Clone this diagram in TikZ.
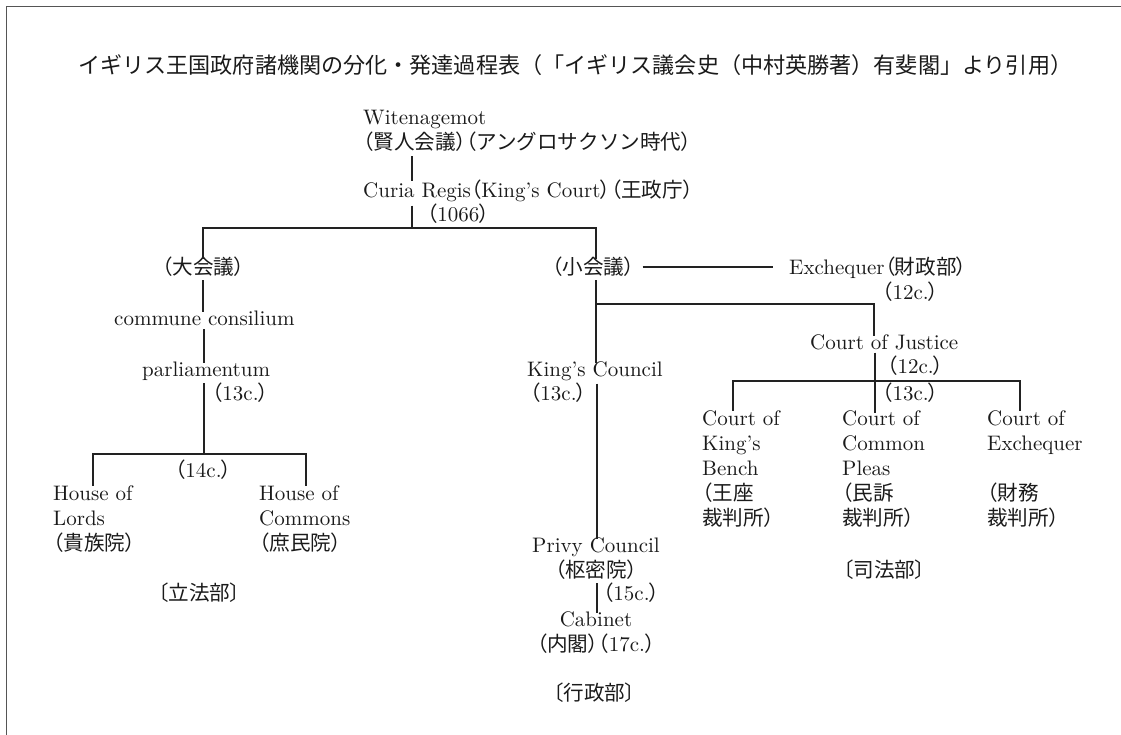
\documentclass[tikz,border=0pt]{standalone}
\usepackage{fontspec}
\setmainfont{lmroman10-regular}[Extension=.otf]
\newfontfamily\cjkf[Scale=0.98]{Noto Sans CJK JP}
\newfontfamily\cjkpf[Scale=0.98,RawFeature=+palt]{Noto Sans CJK JP}
\newfontfamily\titlef{Noto Sans CJK JP}
\newcommand\J[1]{{\cjkf #1}}
\newcommand\Lp{{\cjkpf （}}
\newcommand\Rp{{\cjkpf ）}}
\newcommand\Lk{{\cjkpf 〔}}
\newcommand\Rk{{\cjkpf 〕}}
\newcommand\ML[1]{\vtop{\halign{##\hfil\cr#1\crcr}}}
\newcommand\MC[1]{\vtop{\halign{\hfil##\hfil\cr#1\crcr}}}
\definecolor{txt}{HTML}{1A1A1A}
\definecolor{ln}{HTML}{222222}
\definecolor{fr}{HTML}{555555}
\begin{document}
\begin{tikzpicture}[x=1pt,y=-1pt,
  every node/.style={inner sep=0pt,anchor=base west,text=txt,font=\fontsize{21}{25}\selectfont},
  conn/.style={draw=ln,line width=1.3pt},
  frame/.style={draw=fr,line width=1pt}]
\useasboundingbox (0,0) rectangle (1121,735);
\draw[frame] (6.5,735) -- (6.5,7) -- (1121,7);
% title
\node[font=\titlef\fontsize{22.1}{26}\selectfont] (title) at (78,74)
  {イギリス王国政府諸機関の分化・発達過程表（「イギリス議会史（中村英勝著）有斐閣」より引用）};
% column coordinates
\coordinate (Xcur) at (412,0);
\coordinate (Xdai) at (203,0);
\coordinate (Xsho) at (596,0);
\coordinate (Xjus) at (874,0);
\coordinate (Xkb) at (733,0);
\coordinate (Xce) at (1020,0);
\coordinate (Xl) at (93,0);
\coordinate (Xc) at (306,0);
\coordinate (Xpr) at (597,0);
\coordinate (Yex) at (0,267);
% nodes
\node (wit) at (363,125) {\ML{Witenagemot\cr\Lp\J{賢人会議}\Rp\Lp\J{アングロサクソン時代}\Rp}};
\node (cur) at (363,198) {Curia Regis\Lp King’s Court\Rp\Lp\J{王政庁}\Rp};
\node (d1066) at (427,222) {\Lp 1066\Rp};
\node (dai) at (162,275) {\Lp\J{大会議}\Rp};
\node (commune) at (114,325) {commune consilium};
\node (parl) at (142,376) {parliamentum};
\node (c13a) at (212,400) {\Lp 13c.\Rp};
\node (c14) at (175,477) {\Lp 14c.\Rp};
\node (lords) at (53,500) {\ML{House of\cr Lords\cr\Lp\J{貴族院}\Rp}};
\node (commons) at (259,500) {\ML{House of\cr Commons\cr\Lp\J{庶民院}\Rp}};
\node (rippo) at (158,600) {\Lk\J{立法部}\Rk};
\node (sho) at (552,275) {\Lp\J{小会議}\Rp};
\node (exch) at (789,275) {Exchequer\Lp\J{財政部}\Rp};
\node (c12a) at (882,299) {\Lp 12c.\Rp};
\node (justice) at (810,349) {Court of Justice};
\node (c12b) at (887,373) {\Lp 12c.\Rp};
\node (c13b) at (882,400) {\Lp 13c.\Rp};
\node (kings) at (527,376) {King’s Council};
\node (c13c) at (530,400) {\Lp 13c.\Rp};
\node (kb) at (702,425) {\ML{Court of\cr King’s\cr Bench\cr\Lp\J{王座}\cr\J{裁判所}\Rp}};
\node (cp) at (842,425) {\ML{Court of\cr Common\cr Pleas\cr\Lp\J{民訴}\cr\J{裁判所}\Rp}};
\node (ce) at (987,425) {\ML{Court of\cr Exchequer\cr{}\cr\Lp\J{財務}\cr\J{裁判所}\Rp}};
\node (shiho) at (843,577) {\Lk\J{司法部}\Rk};
\node[anchor=base] (privy) at (596,552) {\MC{Privy Council\cr\Lp\J{枢密院}\Rp}};
\node (c15) at (603,600) {\Lp 15c.\Rp};
\node[anchor=base] (cab) at (596,626) {\MC{Cabinet\cr\Lp\J{内閣}\Rp\Lp 17c.\Rp}};
\node (gyosei) at (553,700) {\Lk\J{行政部}\Rk};
% junction coordinates
\coordinate (jtop) at (412,228);
\coordinate (jparl) at (204,454);
\coordinate (jsho) at (596,304);
\coordinate (jjus) at (875,381);
% connectors
\draw[conn] ([yshift=-4pt]wit.south -| Xcur) -- ([yshift=-1pt]cur.north -| Xcur);
\draw[conn] ([yshift=-3pt]cur.south -| Xcur) -- (jtop);
\draw[conn] ([yshift=-2pt]dai.north -| Xdai) |- (jtop) -| ([yshift=-2pt]sho.north -| Xsho);
\draw[conn] ([yshift=-3pt]dai.south -| Xdai) -- ([yshift=-2pt]commune.north -| Xdai);
\draw[conn] ([yshift=-4pt]commune.south -| jparl) -- ([yshift=-2pt]parl.north -| jparl);
\draw[conn] ([yshift=-3pt]parl.south -| jparl) -- (jparl);
\draw[conn] ([yshift=-1pt]lords.north -| Xl) |- (jparl) -| ([yshift=-1pt]commons.north -| Xc);
\draw[conn] ([xshift=8pt]sho.east |- Yex) -- ([xshift=-16pt]exch.west |- Yex);
\draw[conn] ([yshift=-3pt]sho.south -| Xsho) -- ([yshift=-2pt]kings.north -| Xsho);
\draw[conn] (jsho) -| ([yshift=-2pt]justice.north -| Xjus);
\draw[conn] ([yshift=-3pt]justice.south -| jjus) -- ([yshift=-3pt]cp.north -| jjus);
\draw[conn] ([yshift=-1pt]kb.north -| Xkb) |- (jjus) -| ([yshift=-1pt]ce.north -| Xce);
\draw[conn] ([yshift=-3pt]kings.south -| Xpr) -- ([yshift=-2pt]privy.north -| Xpr);
\draw[conn] ([yshift=-4pt]privy.south -| Xpr) -- ([yshift=-2pt]cab.north -| Xpr);
\end{tikzpicture}
\end{document}
